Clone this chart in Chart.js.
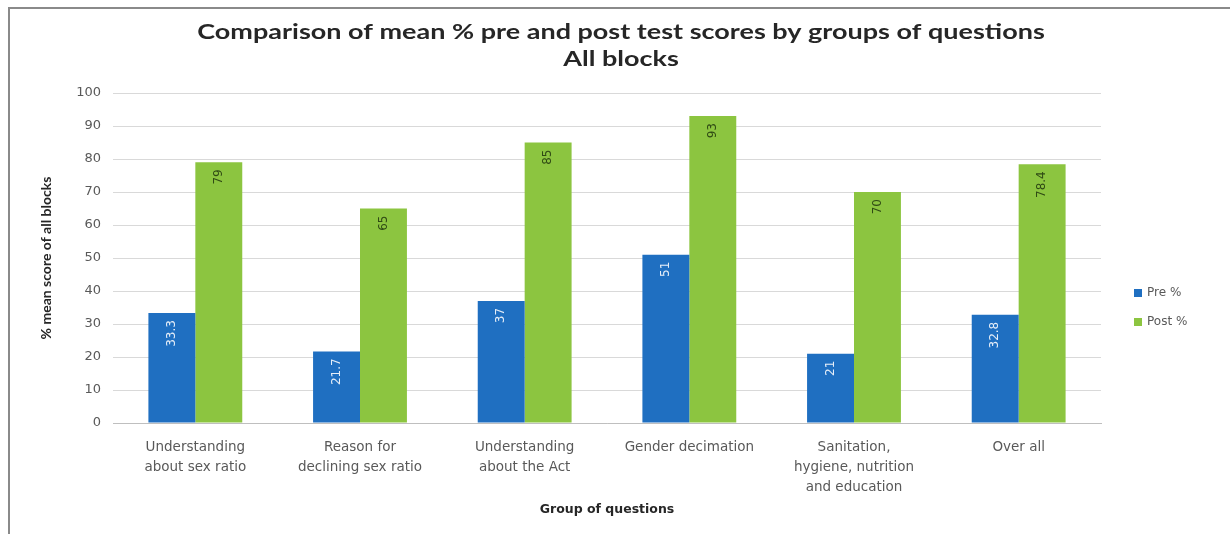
<!DOCTYPE html>
<html>
<head>
<meta charset="utf-8">
<script src="https://cdn.jsdelivr.net/npm/chart.js@4.4.0/dist/chart.umd.min.js"></script>
<style>
  html, body { margin: 0; padding: 0; background: #ffffff; }
  #wrap { position: relative; width: 1230px; height: 534px; }
  canvas { display: block; }
</style>
</head>
<body>
<div id="wrap"><canvas id="c" width="1230" height="534"></canvas></div>
<script>
const categories = [
  ["Understanding", "about sex ratio"],
  ["Reason for", "declining sex ratio"],
  ["Understanding", "about the Act"],
  "Gender decimation",
  ["Sanitation,", "hygiene, nutrition", "and education"],
  "Over all"
];
const preValues = [33.3, 21.7, 37, 51, 21, 32.8];
const postValues = [79, 65, 85, 93, 70, 78.4];
const seriesNames = ["Pre %", "Post %"];
const titleLines = ["Comparison of mean % pre and post test scores by groups of questions", "All blocks"];
const yAxisTitle = "% mean score of all blocks";
const xAxisTitle = "Group of questions";

const PRE_COLOR = "#1f6fc1";
const POST_COLOR = "#8cc540";
const FONT = "Lato, 'Open Sans', sans-serif";
const WIDE = "'DejaVu Sans', sans-serif";

const framePlugin = {
  id: "frame",
  beforeDraw(chart) {
    const ctx = chart.ctx;
    ctx.save();
    ctx.fillStyle = "#ffffff";
    ctx.fillRect(0, 0, chart.width, chart.height);
    ctx.strokeStyle = "#8a8a8a";
    ctx.lineWidth = 2;
    ctx.beginPath();
    ctx.moveTo(9, chart.height);
    ctx.lineTo(9, 8);
    ctx.lineTo(chart.width, 8);
    ctx.stroke();
    ctx.restore();
  },
  afterDraw(chart) {
    const ctx = chart.ctx;
    ctx.save();
    ctx.fillStyle = "#262626";
    ctx.font = "bold 20px " + FONT;
    ctx.textAlign = "center";
    ctx.textBaseline = "middle";
    const cx = 621;
    titleLines.forEach((t, i) => {
      ctx.save();
      ctx.translate(cx, 33 + i * 27);
      ctx.scale(1.35, 1);
      ctx.fillText(t, 0, 0);
      ctx.restore();
    });
    ctx.restore();
    ctx.save();
    ctx.font = "12px " + WIDE;
    ctx.textBaseline = "middle";
    ctx.textAlign = "left";
    chart.data.datasets.forEach((ds, i) => {
      const y = 293 + i * 29;
      ctx.fillStyle = ds.backgroundColor;
      ctx.fillRect(1134, y - 4, 8, 8);
      ctx.fillStyle = "#595959";
      ctx.fillText(ds.label, 1147, y);
    });
    ctx.restore();
  }
};

const barLabelPlugin = {
  id: "barLabels",
  afterDatasetsDraw(chart) {
    const ctx = chart.ctx;
    chart.data.datasets.forEach((ds, di) => {
      const meta = chart.getDatasetMeta(di);
      meta.data.forEach((el, i) => {
        ctx.save();
        ctx.translate(el.x, el.y + 7);
        ctx.rotate(-Math.PI / 2);
        ctx.font = "12px " + WIDE;
        ctx.textAlign = "right";
        ctx.textBaseline = "middle";
        ctx.fillStyle = di === 0 ? "#e6eef8" : "#2f4a14";
        ctx.fillText(String(ds.data[i]), 0, 0);
        ctx.restore();
      });
    });
  }
};

new Chart(document.getElementById("c"), {
  type: "bar",
  data: {
    labels: categories,
    datasets: [
      { label: seriesNames[0], data: preValues, backgroundColor: PRE_COLOR, categoryPercentage: 0.57, barPercentage: 1.0 },
      { label: seriesNames[1], data: postValues, backgroundColor: POST_COLOR, categoryPercentage: 0.57, barPercentage: 1.0 }
    ]
  },
  options: {
    responsive: false,
    animation: false,
    devicePixelRatio: 1,
    layout: { padding: { left: 34, top: 93, right: 129, bottom: 13 } },
    plugins: {
      legend: { display: false },
      title: { display: false },
      tooltip: { enabled: false }
    },
    scales: {
      x: {
        grid: { display: false, drawTicks: false },
        border: { display: true, color: "#bfbfbf", width: 1 },
        ticks: { color: "#595959", font: { family: WIDE, size: 13.5, lineHeight: 1.5 }, padding: 14, maxRotation: 0, autoSkip: false },
        title: { display: true, text: xAxisTitle, color: "#262626", font: { family: WIDE, size: 12.5, weight: "bold" }, padding: { top: 4, bottom: 4 } },
        afterFit(scale) { scale.height = 98; }
      },
      y: {
        min: 0, max: 100,
        ticks: { stepSize: 10, color: "#595959", font: { family: WIDE, size: 13 }, padding: 12 },
        grid: { color: "#d9d9d9", lineWidth: 1, drawTicks: false },
        border: { display: false },
        title: { display: true, text: yAxisTitle, color: "#262626", font: { family: FONT, size: 14, weight: "bold" }, padding: { top: 4, bottom: 4 } },
        afterFit(scale) { scale.width = 79; }
      }
    }
  },
  plugins: [framePlugin, barLabelPlugin]
});
</script>
</body>
</html>
